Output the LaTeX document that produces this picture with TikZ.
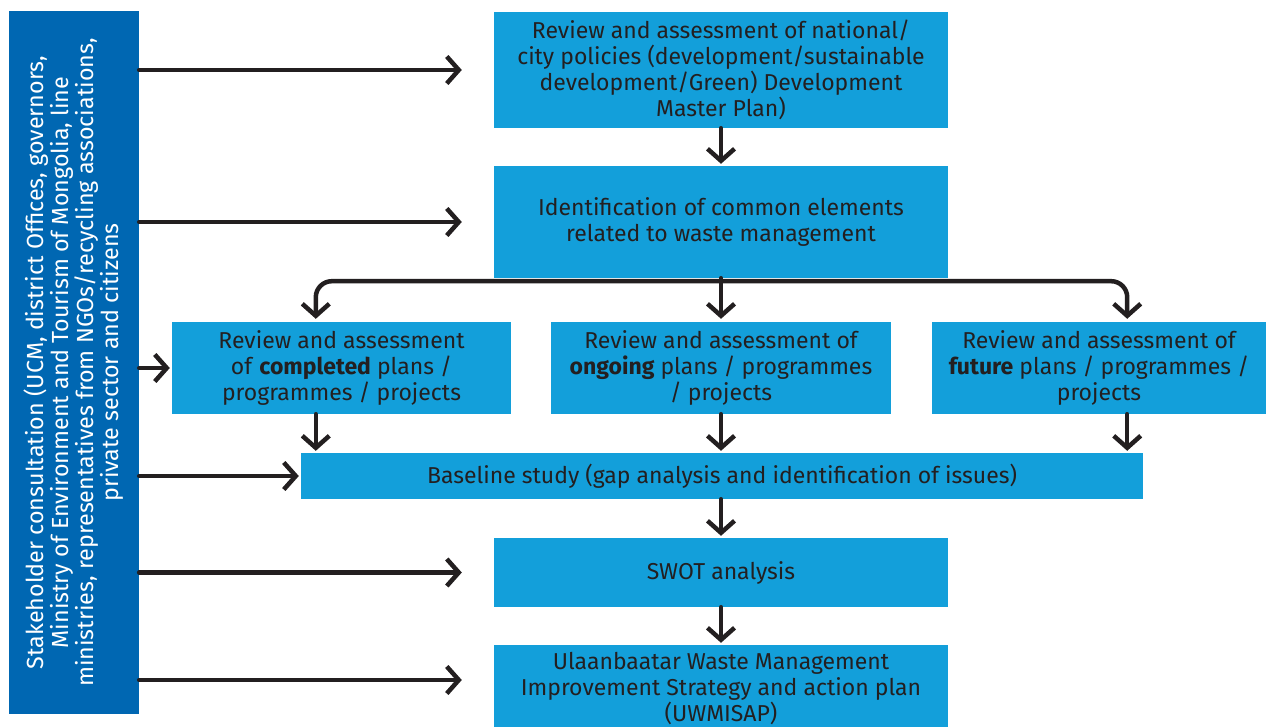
\documentclass[tikz,border=0pt]{standalone}
\usepackage{fontspec}
\setmainfont{Fira Sans}
\usetikzlibrary{arrows.meta}

\definecolor{boxblue}{RGB}{19,159,218}
\definecolor{sideblue}{RGB}{0,103,178}
\definecolor{ink}{RGB}{35,31,32}

\tikzset{
  stepbox/.style={fill=boxblue, text=ink, inner sep=0pt, align=center,
    font=\fontsize{23}{26}\selectfont},
  flow/.style={draw=ink, line width=4.5pt, line cap=round, line join=round,
    -{Straight Barb[length=12pt,width=27pt]}},
}

\begin{document}
\begin{tikzpicture}[x=1pt, y=-1pt]
  \useasboundingbox (0,0) rectangle (1266,727);

  % --- side panel ---
  \node[fill=sideblue, minimum width=130pt, minimum height=703pt, inner sep=0pt] (stake) at (74,362.5) {};
  \node[rotate=90, text=white, align=center, font=\fontsize{23.3}{25}\selectfont] (stakelabel) at (stake.center)
    {Stakeholder consultation (UCM, district Offices, governors,\\
     Ministry of Environment and Tourism of Mongolia, line\\
     ministries, representatives from NGOs/recycling associations,\\
     private sector and citizens};

  % --- steps ---
  \node[stepbox, minimum width=454pt, minimum height=116pt] (review) at (721,70)
    {Review and assessment of national/\\ city policies (development/sustainable\\
     development/Green) Development\\ Master Plan)};
  \node[stepbox, minimum width=454pt, minimum height=112pt] (ident) at (721,222)
    {Identification of common elements\\ related to waste management};
  \node[stepbox, minimum width=339pt, minimum height=92pt] (completed) at (341.5,368)
    {Review and assessment\\ of \textbf{completed} plans /\\ programmes / projects};
  \node[stepbox, minimum width=340pt, minimum height=92pt] (ongoing) at (721,368)
    {Review and assessment of\\ \textbf{ongoing} plans / programmes\\ / projects};
  \node[stepbox, minimum width=334pt, minimum height=92pt] (future) at (1099,368)
    {Review and assessment of\\ \textbf{future} plans / programmes /\\ projects};
  \node[stepbox, minimum width=842pt, minimum height=46pt] (base) at (722,476)
    {Baseline study (gap analysis and identification of issues)};
  \node[stepbox, minimum width=454pt, minimum height=69pt] (swot) at (721,572.5)
    {SWOT analysis};
  \node[stepbox, minimum width=454pt, minimum height=88pt] (uwmi) at (721,689)
    {Ulaanbaatar Waste Management\\ Improvement Strategy and action plan\\ (UWMISAP)};

  \coordinate (lcol) at ([xshift=15pt]base.west);
  \coordinate (rcol) at ([xshift=-16pt]base.east);
  \coordinate (fork) at ([yshift=-3pt]ident.south);
  \coordinate (uin) at ([yshift=9pt]uwmi.west);

  % --- main flow ---
  \draw[flow, shorten >=2pt] (review) -- (ident);
  \draw[flow, shorten >=3pt] (ident) -- (ongoing);
  \draw[flow, rounded corners=16pt, shorten >=3pt] (fork) -| (lcol |- completed.north);
  \draw[flow, rounded corners=16pt, shorten >=3pt] (fork) -| (rcol |- future.north);
  \draw[flow, shorten >=2pt] (lcol |- completed.south) -- (lcol |- base.north);
  \draw[flow, shorten >=2pt] (ongoing.south) -- (ongoing.south |- base.north);
  \draw[flow, shorten >=2pt] (rcol |- future.south) -- (rcol |- base.north);
  \draw[flow, shorten >=2pt] (swot.north |- base.south) -- (swot.north);
  \draw[flow, shorten >=2pt] (swot) -- (uwmi);

  % --- consultation inputs ---
  \draw[flow] (stake.east |- review) -- ([xshift=-32pt]review.west);
  \draw[flow] (stake.east |- ident) -- ([xshift=-32pt]ident.west);
  \draw[flow] (stake.east |- completed) -- ([xshift=-2pt]completed.west);
  \draw[flow] (stake.east |- base) -- ([xshift=-2pt]base.west);
  \draw[flow] (stake.east |- swot) -- ([xshift=-32pt]swot.west);
  \draw[flow] (stake.east |- uin) -- ([xshift=-32pt]uin);

\end{tikzpicture}
\end{document}
